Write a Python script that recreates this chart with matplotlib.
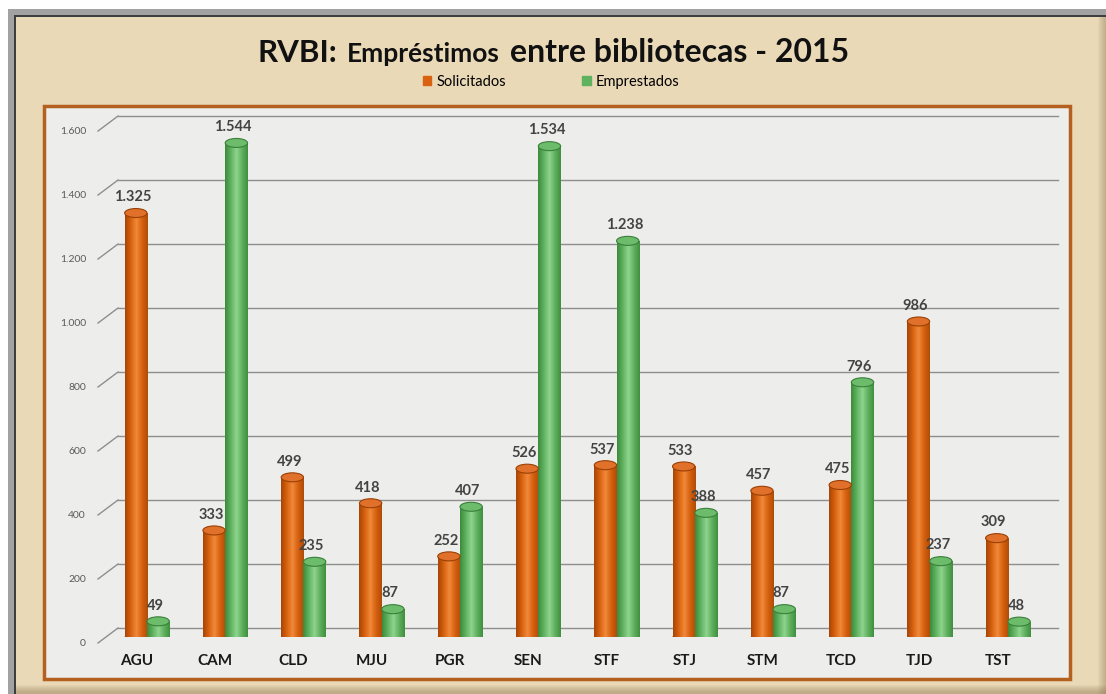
import numpy as np
import matplotlib
matplotlib.use("Agg")
from matplotlib import pyplot as plt
from matplotlib.patches import Rectangle, Ellipse, Patch
from matplotlib.colors import LinearSegmentedColormap
from matplotlib.transforms import ScaledTranslation

cats = ['AGU', 'CAM', 'CLD', 'MJU', 'PGR', 'SEN', 'STF', 'STJ', 'STM', 'TCD', 'TJD', 'TST']
solicitados = [1325, 333, 499, 418, 252, 526, 537, 533, 457, 475, 986, 309]
emprestados = [49, 1544, 235, 87, 407, 1534, 1238, 388, 87, 796, 237, 48]
yticks = [0, 200, 400, 600, 800, 1000, 1200, 1400, 1600]


def fmt(v):
    return f"{v:,}".replace(',', '.')


W, H = 1106, 694
fig = plt.figure(figsize=(W / 100, H / 100), dpi=100)
fig.patch.set_facecolor('white')


def box(x0, y0, x1, y1, **kw):
    # rectangle given in pixel coords from the top-left corner
    r = Rectangle((x0 / W, 1 - y1 / H), (x1 - x0) / W, (y1 - y0) / H,
                  transform=fig.transFigure, **kw)
    fig.patches.append(r)
    return r


# picture frame + parchment
box(8, 9, W, H, facecolor='#a2a2a2', edgecolor='none', zorder=-5)
box(14, 15, W, H, facecolor='#3e3e3e', edgecolor='none', zorder=-5)
box(16, 17, W, H, facecolor='#ead9b7', edgecolor='none', zorder=-5)
for k in range(8):
    box(16, H - 9 + k, W, H, facecolor='#8a7650', alpha=0.07, edgecolor='none', zorder=-4)
    box(W - 8 + k, 17, W, H, facecolor='#8a7650', alpha=0.06, edgecolor='none', zorder=-4)

# plot area box
box(44, 106, 1070, 679, facecolor='#ededeb', edgecolor='#b4601e', lw=2.5, zorder=-1)

ax = fig.add_axes([100 / W, 57 / H, 958 / W, 527 / H])
ax.set_zorder(2)
ax.set_facecolor('none')
for s in ax.spines.values():
    s.set_visible(False)
ymax = 1647
xlim = (-0.6, 11.64)
ax.set_ylim(0, ymax)
ax.set_xlim(*xlim)
px = 527 / ymax  # pixels per unit

# 3d-ish gridlines with the diagonal from the front edge to the back wall
back = ax.get_yaxis_transform() + ScaledTranslation(0, 9 / 100, fig.dpi_scale_trans)
x_back = 18 / 958
for v in yticks:
    ax.plot([x_back, 1.0], [v, v], transform=back, color='#8e8e8e', lw=1, zorder=1, clip_on=False)
    p0 = ax.transData.transform((0, v))[1]
    y_front = ax.transAxes.inverted().transform((0, p0 - 6))[1]
    y_back = ax.transAxes.inverted().transform((0, p0 + 9))[1]
    ax.plot([-2 / 958, x_back], [y_front, y_back], transform=ax.transAxes, color='#8e8e8e',
            lw=1, zorder=1, clip_on=False)
    ax.text(-14 / 958, y_front, fmt(v), transform=ax.transAxes, ha='right', va='center',
            fontsize=7.5, color='#5a5a5a', family='Lato')

orange = LinearSegmentedColormap.from_list('o', ['#a84506', '#d8620f', '#f08a3a', '#d6600e', '#b04c08'])
green = LinearSegmentedColormap.from_list('g', ['#3c8a3c', '#5fb25f', '#8fd48f', '#5fb05f', '#3f8f3f'])
grad = np.linspace(0, 1, 64).reshape(1, -1)
bw = 0.285
eh = 9 / px


def cylinder(x0, h, cmap, top, edge):
    rect = Rectangle((x0, 0), bw, h, facecolor='none', edgecolor='none')
    ax.add_patch(rect)
    ax.add_patch(Ellipse((x0 + bw / 2, 0), bw, eh, facecolor=edge, edgecolor='none', zorder=2.9))
    im = ax.imshow(grad, extent=(x0, x0 + bw, 0, h), cmap=cmap, aspect='auto', zorder=3)
    im.set_clip_path(rect)
    ax.add_patch(Ellipse((x0 + bw / 2, h), bw, eh, facecolor=top, edgecolor=edge, lw=0.8, zorder=3.2))
    ax.annotate(fmt(h), (x0 + bw / 2 - 0.04, h + eh / 2), xytext=(0, 3), textcoords='offset points',
                ha='center', va='bottom', fontsize=10.5, weight='bold', color='#434343', family='Lato',
                zorder=4)


for i in range(len(cats)):
    cylinder(i - bw, solicitados[i], orange, '#e0702a', '#9a4005')
    cylinder(i, emprestados[i], green, '#6cbc6c', '#3a7f3a')

ax.set_xlim(*xlim)
ax.set_ylim(0, ymax)
ax.set_yticks([])
ax.set_xticks(np.arange(len(cats)) - 0.13)
ax.set_xticklabels(cats, fontsize=11, weight='bold', color='#1a1a1a', family='Lato')
ax.tick_params(axis='x', length=0, pad=12)

# title in three pieces
parts = [("RVBI:", 22.5), ("Empréstimos", 19), ("entre bibliotecas - 2015", 23)]
texts = [fig.text(0, 1 - 62 / H, s, fontsize=fs, weight='bold', family='Lato',
                  va='baseline', color='#111111') for s, fs in parts]
renderer = fig.canvas.get_renderer()
widths = [t.get_window_extent(renderer).width for t in texts]
gap = 10
total = sum(widths) + gap * (len(widths) - 1)
x = 553 - total / 2
for t, w in zip(texts, widths):
    t.set_x(x / W)
    x += w + gap

fig.legend(handles=[Patch(color='#d8620f', label='Solicitados'),
                    Patch(color='#5fb25f', label='Emprestados')],
           loc='center', bbox_to_anchor=(551 / W, 1 - 82 / H), ncol=2, frameon=False,
           handlelength=0.6, handleheight=0.6, columnspacing=5.2, handletextpad=0.35,
           prop={'family': 'Lato', 'size': 10.5})

fig.savefig('out.png', dpi=100, facecolor=fig.get_facecolor())
